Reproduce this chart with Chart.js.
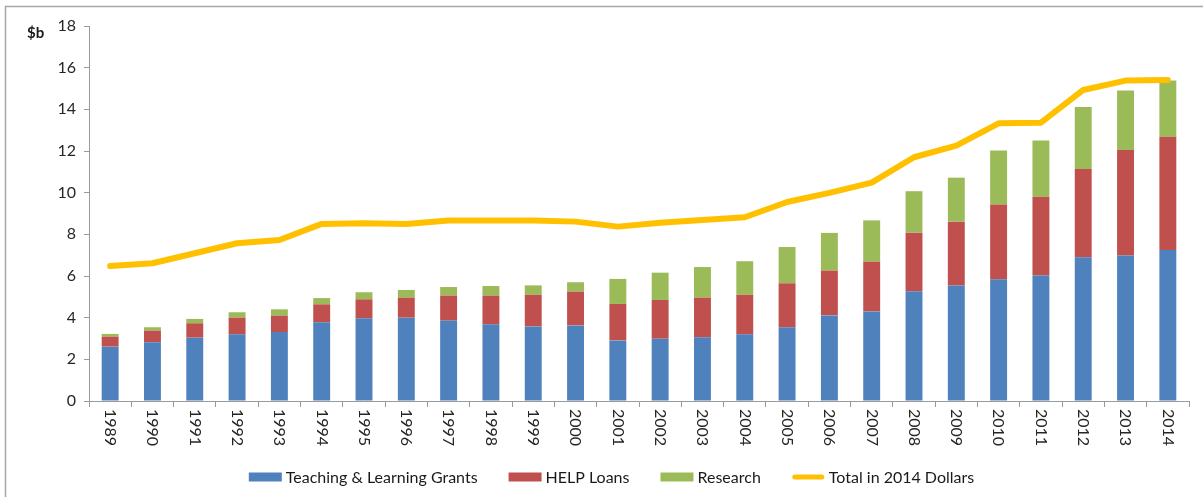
<!DOCTYPE html>
<html>
<head>
<meta charset="utf-8">
<script src="https://cdn.jsdelivr.net/npm/chart.js@4"></script>
<style>
  html, body { margin: 0; padding: 0; background: #fff; }
  #wrap { width: 1203px; height: 497px; }
</style>
</head>
<body>
<div id="wrap"><canvas id="myChart"></canvas></div>
<script>
const years = ['1989','1990','1991','1992','1993','1994','1995','1996','1997','1998','1999','2000','2001',
               '2002','2003','2004','2005','2006','2007','2008','2009','2010','2011','2012','2013','2014'];

// $b
const teaching = [2.61,2.82,3.04,3.20,3.31,3.78,3.97,4.00,3.86,3.68,3.58,3.63,2.91,
                  2.99,3.06,3.20,3.54,4.11,4.30,5.27,5.55,5.84,6.03,6.90,6.99,7.25];
const helpLoans = [0.48,0.56,0.69,0.80,0.79,0.86,0.91,0.96,1.20,1.38,1.52,1.62,1.75,
                   1.86,1.90,1.90,2.11,2.15,2.39,2.81,3.06,3.59,3.78,4.24,5.06,5.44];
const research = [0.13,0.16,0.21,0.26,0.30,0.30,0.34,0.37,0.41,0.46,0.45,0.45,1.20,
                  1.31,1.47,1.61,1.74,1.81,1.98,1.99,2.11,2.60,2.69,2.97,2.85,2.69];
// total in 2014 dollars
const total2014 = [6.48,6.61,7.09,7.57,7.73,8.50,8.53,8.50,8.66,8.66,8.66,8.61,8.37,
                   8.56,8.69,8.82,9.55,9.99,10.48,11.70,12.26,13.33,13.36,14.93,15.38,15.41];

const yTicks = [0,2,4,6,8,10,12,14,16,18];

const FONT = 'Lato, "Open Sans", sans-serif';
const ctx = document.getElementById('myChart');

// frame, "$b" label, x labels turned clockwise, and the legend row
const extras = {
    id: 'extras',
    beforeDraw(chart) {
        const c = chart.ctx;
        c.save();
        c.strokeStyle = '#a6a6a6';
        c.lineWidth = 1.5;
        c.beginPath();
        c.moveTo(5.5, 497);
        c.lineTo(5.5, 6.5);
        c.lineTo(1203, 6.5);
        c.stroke();
        c.restore();
    },
    afterDraw(chart) {
        const c = chart.ctx;
        const xs = chart.scales.x;
        c.save();
        c.fillStyle = '#1a1a1a';
        c.font = 'bold 15px ' + FONT;
        c.textAlign = 'left';
        c.textBaseline = 'middle';
        c.fillText('$b', 27, 33);

        c.font = '16px ' + FONT;
        c.fillStyle = '#262626';
        years.forEach(function(y, i){
            const px = xs.getPixelForValue(i);
            c.save();
            c.translate(px, xs.top + 8);
            c.rotate(Math.PI / 2);
            c.textAlign = 'left';
            c.textBaseline = 'middle';
            c.fillText(y, 0, 0);
            c.restore();
        });

        // legend
        const sets = chart.data.datasets;
        const boxW = 33, gapText = 4, gapItem = 31, cy = 477;
        c.font = '16px ' + FONT;
        let totalW = 0;
        sets.forEach(function(ds, i){
            totalW += boxW + gapText + c.measureText(ds.label).width;
            if (i < sets.length - 1) totalW += gapItem;
        });
        let x = (chart.width - totalW) / 2 + 10;
        sets.forEach(function(ds){
            if (ds.type === 'line') {
                c.strokeStyle = ds.borderColor;
                c.lineWidth = 5;
                c.lineCap = 'round';
                c.beginPath();
                c.moveTo(x + 3, cy);
                c.lineTo(x + boxW - 3, cy);
                c.stroke();
            } else {
                c.fillStyle = ds.backgroundColor;
                c.fillRect(x, cy - 4.5, boxW, 9);
            }
            x += boxW + gapText;
            c.fillStyle = '#1a1a1a';
            c.textAlign = 'left';
            c.textBaseline = 'middle';
            c.fillText(ds.label, x, cy + 1);
            x += c.measureText(ds.label).width + gapItem;
        });
        c.restore();
    }
};

new Chart(ctx, {
    type: 'bar',
    data: {
        labels: years,
        datasets: [
            {
                label: 'Teaching & Learning Grants',
                data: teaching,
                backgroundColor: '#4F81BD',
                stack: 'bars',
                order: 1
            },
            {
                label: 'HELP Loans',
                data: helpLoans,
                backgroundColor: '#C0504D',
                stack: 'bars',
                order: 1
            },
            {
                label: 'Research',
                data: research,
                backgroundColor: '#9BBB59',
                stack: 'bars',
                order: 1
            },
            {
                label: 'Total in 2014 Dollars',
                type: 'line',
                data: total2014,
                borderColor: '#FFC000',
                backgroundColor: '#FFC000',
                borderWidth: 6,
                borderCapStyle: 'round',
                borderJoinStyle: 'round',
                pointRadius: 0,
                tension: 0,
                stack: 'line',
                order: 0
            }
        ]
    },
    options: {
        responsive: true,
        maintainAspectRatio: false,
        animation: false,
        layout: { padding: { left: 0, right: 14, top: 26, bottom: 37 } },
        datasets: {
            bar: { barPercentage: 0.4, categoryPercentage: 1.0 }
        },
        plugins: {
            tooltip: { enabled: false },
            legend: { display: false }
        },
        scales: {
            x: {
                stacked: true,
                grid: { drawOnChartArea: false, tickLength: 6, color: '#9a9a9a', offset: true },
                border: { color: '#9a9a9a' },
                ticks: { display: false },
                afterFit: function(scale){ scale.height = 59; }
            },
            y: {
                stacked: true,
                min: 0,
                max: 18,
                afterBuildTicks: function(scale){ scale.ticks = yTicks.map(function(v){ return { value: v }; }); },
                grid: { drawOnChartArea: false, tickLength: 5, color: '#9a9a9a' },
                border: { color: '#9a9a9a' },
                ticks: { color: '#262626', padding: 8, font: { family: FONT, size: 16 } },
                afterFit: function(scale){ scale.width = 89; }
            }
        }
    },
    plugins: [extras]
});
</script>
</body>
</html>
